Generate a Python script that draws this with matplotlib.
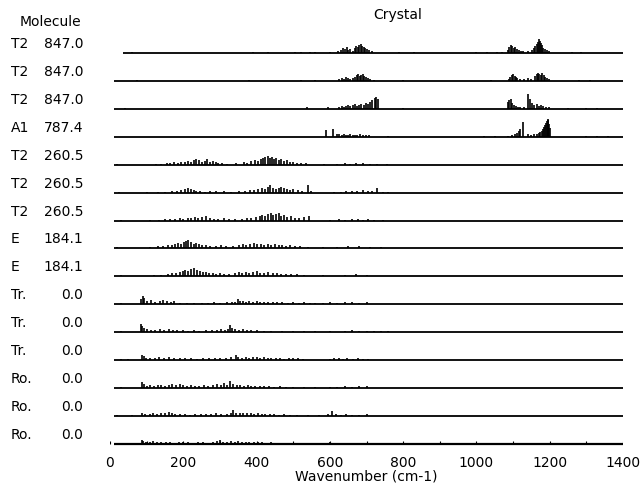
"""Stick spectra of crystal modes, one row per molecular mode, stacked on a shared wavenumber axis."""

import matplotlib

matplotlib.use("Agg")
import matplotlib.pyplot as plt  # noqa: E402
from matplotlib.transforms import blended_transform_factory  # noqa: E402

# molecular mode labels, top row first
mode_sym = ["T2", "T2", "T2", "A1", "T2", "T2", "T2", "E", "E",
            "Tr.", "Tr.", "Tr.", "Ro.", "Ro.", "Ro."]
mode_freq = ["847.0", "847.0", "847.0", "787.4", "260.5", "260.5", "260.5",
             "184.1", "184.1", "0.0", "0.0", "0.0", "0.0", "0.0", "0.0"]
# where each row's baseline begins (cm-1)
line_start = [35, 12, 12, 12, 12, 12, 12, 12, 12, 12, 12, 12, 12, 12, 12]

x_ticks = [0, 200, 400, 600, 800, 1000, 1200, 1400]
x_minor = [100, 300, 500, 700, 900, 1100, 1300]

# (wavenumber cm-1, intensity) sticks of each row
s01 = [(60, 1), (390, 1), (430, 1), (505, 1), (520, 1), (545, 1), (560, 1), (600, 1), (622, 2),
       (630, 3), (636, 5), (641, 4), (646, 6), (650, 3), (656, 4), (662, 2), (668, 5), (672, 7),
       (676, 6), (680, 8), (684, 9), (688, 7), (692, 6), (697, 5), (702, 4), (708, 3), (716, 2),
       (790, 1), (830, 1), (1000, 1), (1030, 1), (1055, 1), (1070, 1), (1086, 3), (1090, 6),
       (1094, 8), (1098, 7), (1102, 5), (1106, 6), (1110, 4), (1115, 3), (1122, 2), (1128, 2),
       (1140, 2), (1152, 3), (1156, 5), (1160, 7), (1164, 9), (1167, 11), (1170, 14), (1173, 12),
       (1176, 10), (1179, 8), (1183, 5), (1187, 4), (1192, 3), (1197, 2), (1260, 1), (1285, 1)]
s02 = [(75, 1), (380, 1), (520, 1), (560, 1), (625, 2), (632, 3), (638, 2), (645, 4), (650, 3),
       (656, 2), (662, 3), (668, 4), (674, 6), (678, 7), (682, 5), (686, 6), (690, 7), (694, 5),
       (699, 4), (704, 3), (710, 2), (720, 1), (800, 1), (1040, 1), (1088, 2), (1092, 4),
       (1096, 6), (1100, 7), (1104, 5), (1108, 4), (1112, 3), (1118, 2), (1130, 2), (1140, 3),
       (1150, 2), (1160, 5), (1164, 7), (1168, 8), (1172, 7), (1176, 6), (1180, 8), (1184, 6),
       (1188, 4), (1193, 3), (1198, 2), (1280, 1), (1310, 1)]
s03 = [(40, 1), (537, 2), (595, 2), (625, 2), (632, 3), (638, 2), (645, 3), (650, 4), (656, 3),
       (662, 4), (668, 5), (674, 3), (680, 4), (686, 5), (692, 4), (698, 6), (704, 5), (710, 7),
       (716, 9), (722, 11), (726, 12), (731, 10), (800, 1), (1086, 7), (1090, 9), (1094, 10),
       (1098, 6), (1103, 4), (1108, 3), (1114, 2), (1120, 2), (1130, 2), (1142, 15), (1146, 10),
       (1152, 6), (1158, 4), (1164, 5), (1170, 3), (1176, 4), (1182, 3), (1190, 2), (1198, 2),
       (1250, 1), (1300, 1), (1330, 1)]
s04 = [(590, 7), (608, 8), (620, 3), (626, 3), (632, 2), (638, 3), (644, 2), (650, 2), (656, 3),
       (662, 2), (668, 2), (675, 2), (682, 3), (690, 2), (698, 2), (706, 2), (760, 1), (1020, 1),
       (1050, 1), (1085, 1), (1098, 2), (1104, 3), (1110, 4), (1116, 6), (1120, 8), (1126, 15),
       (1140, 3), (1150, 2), (1158, 3), (1164, 3), (1170, 4), (1174, 5), (1178, 6), (1182, 8),
       (1185, 10), (1188, 12), (1190, 14), (1192, 16), (1194, 18), (1196, 17), (1198, 13),
       (1200, 9), (1300, 1), (1330, 1), (1360, 1)]
s05 = [(20, 1), (125, 1), (140, 1), (155, 2), (165, 2), (175, 3), (185, 2), (195, 3), (205, 3),
       (212, 4), (220, 3), (228, 5), (236, 6), (244, 5), (250, 3), (258, 4), (266, 6), (272, 3),
       (280, 4), (288, 3), (296, 2), (305, 2), (318, 1), (345, 2), (365, 3), (375, 2), (385, 4),
       (395, 5), (405, 4), (412, 6), (418, 7), (424, 8), (430, 9), (436, 7), (442, 8), (448, 6),
       (454, 7), (460, 5), (468, 6), (476, 4), (484, 5), (492, 3), (500, 3), (510, 2), (520, 2),
       (535, 2), (585, 1), (620, 1), (640, 2), (655, 1), (670, 2), (690, 2), (710, 1), (730, 1),
       (755, 1)]
s06 = [(25, 1), (100, 1), (130, 1), (150, 1), (170, 2), (182, 2), (194, 3), (204, 4), (212, 5),
       (220, 4), (228, 3), (236, 2), (246, 2), (258, 1), (272, 2), (290, 2), (310, 2), (330, 1),
       (352, 2), (368, 2), (382, 3), (394, 3), (404, 4), (414, 5), (422, 4), (430, 6), (438, 8),
       (444, 5), (452, 4), (460, 5), (468, 6), (476, 5), (484, 4), (492, 3), (500, 4), (512, 3),
       (524, 2), (540, 8), (548, 2), (610, 1), (630, 1), (645, 2), (660, 2), (675, 2), (690, 3),
       (705, 2), (715, 2), (728, 5), (745, 1), (760, 1)]
s07 = [(30, 1), (110, 1), (135, 1), (150, 2), (165, 2), (178, 2), (190, 3), (200, 2), (212, 3),
       (222, 3), (232, 4), (240, 3), (250, 4), (262, 5), (272, 3), (284, 2), (296, 2), (310, 3),
       (324, 2), (340, 2), (360, 2), (374, 3), (386, 3), (398, 4), (408, 5), (416, 6), (424, 5),
       (432, 7), (440, 8), (446, 6), (452, 7), (460, 8), (468, 5), (476, 6), (484, 4), (494, 5),
       (504, 3), (516, 3), (530, 4), (544, 5), (600, 1), (625, 2), (640, 1), (660, 2), (676, 2),
       (690, 1), (705, 2), (720, 1), (745, 1)]
s08 = [(20, 1), (110, 1), (130, 2), (145, 2), (158, 3), (168, 3), (178, 4), (186, 5), (194, 4),
       (202, 6), (208, 7), (214, 8), (220, 6), (228, 4), (236, 5), (244, 4), (252, 3), (262, 3),
       (274, 2), (290, 2), (304, 3), (316, 2), (336, 2), (352, 3), (362, 4), (372, 3), (382, 4),
       (392, 5), (402, 4), (412, 4), (420, 3), (430, 4), (440, 3), (450, 4), (460, 3), (470, 3),
       (480, 2), (492, 3), (504, 2), (518, 2), (540, 1), (580, 1), (620, 1), (650, 2), (680, 2),
       (710, 1), (740, 1)]
s09 = [(30, 1), (120, 1), (140, 1), (158, 2), (170, 3), (180, 3), (190, 4), (198, 5), (206, 6),
       (214, 5), (222, 7), (230, 8), (238, 6), (246, 5), (254, 4), (262, 4), (270, 3), (280, 3),
       (290, 2), (300, 3), (312, 2), (326, 2), (342, 3), (352, 4), (360, 3), (370, 4), (380, 3),
       (390, 4), (400, 5), (410, 3), (420, 3), (432, 4), (444, 3), (456, 3), (468, 2), (480, 2),
       (495, 2), (510, 2), (530, 1), (580, 1), (640, 1), (670, 2), (700, 1)]
s10 = [(30, 1), (85, 5), (90, 8), (94, 6), (100, 3), (112, 4), (124, 2), (136, 3), (146, 4),
       (156, 3), (166, 2), (176, 3), (190, 1), (210, 1), (230, 1), (250, 1), (268, 1), (285, 2),
       (300, 1), (318, 2), (332, 2), (342, 2), (350, 5), (356, 3), (364, 3), (372, 2), (380, 3),
       (390, 2), (400, 3), (410, 2), (420, 2), (432, 2), (444, 2), (456, 2), (470, 2), (485, 1),
       (500, 2), (515, 1), (530, 2), (545, 1), (560, 1), (580, 1), (600, 2), (620, 1), (640, 2),
       (660, 2), (680, 1), (700, 2)]
s11 = [(30, 1), (84, 8), (88, 6), (92, 4), (100, 3), (112, 2), (124, 2), (136, 3), (148, 2),
       (160, 3), (172, 2), (184, 2), (198, 2), (212, 1), (228, 2), (244, 1), (262, 2), (278, 2),
       (292, 2), (304, 3), (314, 2), (322, 3), (328, 7), (334, 4), (342, 3), (352, 2), (362, 3),
       (374, 2), (386, 2), (400, 2), (420, 1), (440, 1), (470, 1), (500, 1), (530, 1), (560, 1),
       (600, 1), (640, 1), (660, 2), (680, 1), (700, 1), (720, 1), (740, 1), (760, 1)]
s12 = [(30, 1), (50, 1), (88, 5), (92, 4), (98, 2), (110, 2), (122, 2), (134, 3), (148, 2),
       (162, 3), (176, 2), (190, 2), (206, 2), (222, 2), (238, 1), (254, 2), (270, 2), (286, 2),
       (300, 2), (316, 2), (330, 3), (344, 5), (350, 3), (360, 2), (370, 3), (380, 2), (390, 3),
       (400, 3), (410, 2), (420, 3), (430, 2), (440, 2), (452, 2), (464, 2), (476, 1), (488, 2),
       (500, 2), (514, 2), (528, 1), (600, 1), (612, 2), (624, 2), (636, 1), (648, 2), (662, 1),
       (676, 2), (690, 1), (705, 1)]
s13 = [(30, 1), (88, 6), (92, 4), (100, 2), (110, 3), (120, 2), (130, 3), (140, 3), (150, 2),
       (160, 3), (170, 4), (180, 3), (190, 4), (200, 3), (210, 2), (220, 3), (232, 2), (244, 2),
       (256, 3), (268, 2), (280, 3), (292, 4), (302, 3), (312, 5), (320, 3), (328, 7), (336, 4),
       (346, 3), (356, 3), (366, 2), (376, 3), (386, 2), (396, 2), (408, 2), (420, 2), (434, 2),
       (448, 1), (464, 2), (480, 1), (500, 1), (530, 1), (560, 1), (600, 1), (620, 1), (640, 2),
       (660, 1), (680, 2), (700, 2)]
s14 = [(20, 1), (60, 1), (88, 3), (96, 2), (108, 2), (118, 3), (128, 2), (140, 3), (150, 3),
       (160, 4), (168, 3), (178, 2), (190, 2), (204, 2), (218, 1), (232, 2), (248, 2), (262, 2),
       (276, 2), (290, 3), (304, 2), (318, 2), (330, 3), (336, 6), (344, 3), (354, 3), (364, 3),
       (374, 3), (384, 3), (394, 2), (404, 3), (414, 2), (424, 2), (436, 2), (448, 2), (460, 1),
       (474, 2), (490, 1), (510, 1), (540, 1), (570, 1), (595, 2), (606, 5), (616, 2), (630, 1),
       (645, 2), (660, 1), (680, 1), (700, 2)]
s15 = [(30, 1), (86, 4), (90, 3), (98, 2), (108, 2), (118, 3), (128, 2), (140, 2), (152, 2),
       (164, 2), (176, 1), (188, 2), (200, 2), (212, 2), (226, 1), (240, 2), (254, 2), (268, 1),
       (280, 2), (292, 3), (300, 4), (308, 2), (318, 2), (330, 3), (340, 2), (350, 3), (360, 2),
       (370, 2), (380, 2), (392, 2), (404, 2), (416, 2), (428, 1), (440, 2), (452, 1), (466, 1),
       (480, 1), (500, 1), (520, 1), (545, 1), (580, 1), (600, 2), (620, 1), (640, 1), (660, 1),
       (680, 1), (700, 1), (715, 1)]

rows = [s01, s02, s03, s04, s05, s06, s07, s08, s09, s10, s11, s12, s13, s14, s15]

ROW_GAP = 27.93   # vertical spacing between baselines, in the y units of the axes
FS = 10

fig = plt.figure(figsize=(6.41, 4.85), dpi=100)
ax = fig.add_axes([110 / 641, 36 / 485, 513 / 641, 419 / 485])
ax.set_xlim(0, 1400)
ax.set_ylim(-4, 415)

n = len(rows)
label_tf = blended_transform_factory(fig.transFigure, ax.transData)
for i, sticks in enumerate(rows):
    base = (n - 1 - i) * ROW_GAP
    # the bottom row gets a slightly heavier line, it doubles as the axis
    ax.plot([line_start[i], 1400], [base, base], color="black",
            lw=1.6 if i == n - 1 else 1.3, solid_capstyle="butt", zorder=3)
    xs = [s[0] for s in sticks]
    hs = [base + s[1] for s in sticks]
    ax.vlines(xs, base, hs, color="black", lw=1.2)
    ax.text(11 / 641, base + 10, mode_sym[i], transform=label_tf,
            ha="left", va="center", fontsize=FS)
    ax.text(83 / 641, base + 10, mode_freq[i], transform=label_tf,
            ha="right", va="center", fontsize=FS)

# short upward tick marks sitting on the bottom baseline
ax.vlines(x_ticks + x_minor, 0, 3.5, color="black", lw=0.8)

fig.text(20 / 641, 1 - 22 / 485, "Molecule", ha="left", va="center", fontsize=FS)
fig.text(398 / 641, 1 - 15 / 485, "Crystal", ha="center", va="center", fontsize=FS)

for side in ("top", "right", "left", "bottom"):
    ax.spines[side].set_visible(False)
ax.set_yticks([])
ax.set_xticks(x_ticks)
ax.tick_params(axis="x", which="both", length=0, pad=5, labelsize=FS)
ax.set_xlabel("Wavenumber (cm-1)", fontsize=FS, labelpad=0)

fig.savefig("out.png", dpi=100)
